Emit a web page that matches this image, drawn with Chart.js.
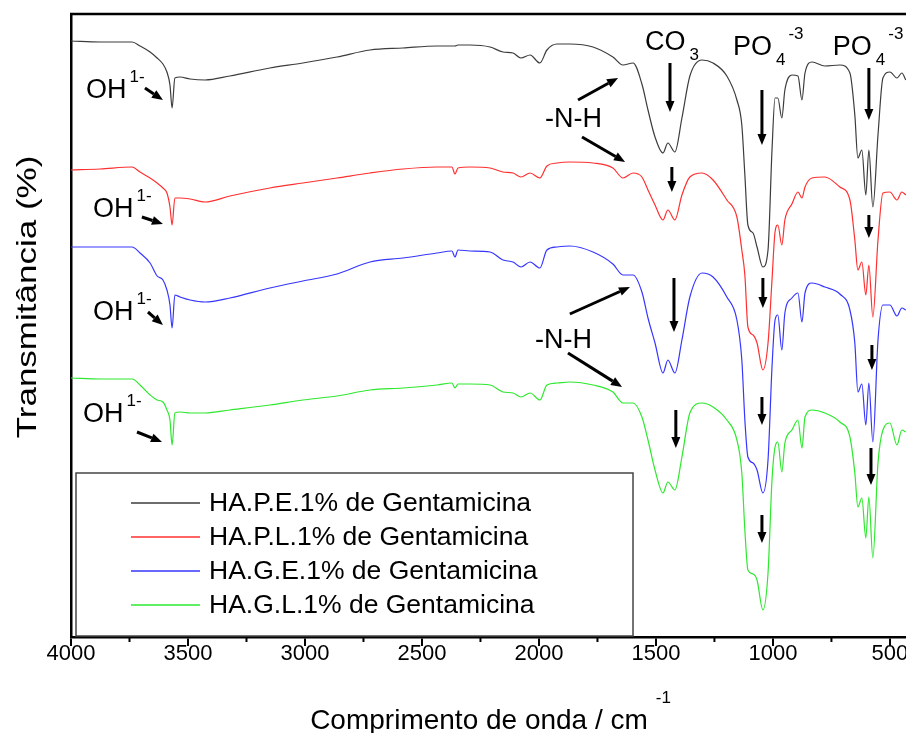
<!DOCTYPE html>
<html>
<head>
<meta charset="utf-8">
<script src="https://cdn.jsdelivr.net/npm/chart.js@4.4.0/dist/chart.umd.min.js"></script>
<style>
    html, body { margin: 0; padding: 0; background: #fff; overflow: hidden; }
    #wrap { width: 940px; height: 733px; }
</style>
</head>
<body>
<div id="wrap"><canvas id="ChartFTIR" width="940" height="733"></canvas></div>
<script>
// numero de onda (cm-1), eixo x invertido
const numeroOnda = [4000, 3876, 3739, 3705, 3662, 3632, 3607, 3590, 3577, 3568, 3556, 3534, 3491, 3427, 3321, 3150,
    3009, 2863, 2722, 2581, 2436, 2372, 2359, 2346, 2295, 2209, 2154, 2111, 2077, 2038, 1996, 1966, 1923, 1868,
    1769, 1684, 1641, 1598, 1560, 1534, 1504, 1470, 1449, 1419, 1389, 1355, 1303, 1256, 1197, 1154, 1133, 1120,
    1107, 1085, 1068, 1043, 1021, 1004, 991, 979, 962, 949, 919, 893, 876, 863, 833, 778, 714, 671, 650, 637,
    620, 603, 590, 573, 551, 530, 500, 470, 449, 432];

// transmitancia (u.a., curvas deslocadas)
const hapeValores = [596, 595, 595, 591, 585, 579, 573, 565, 552, 529, 559, 560, 558, 557, 561, 569,
    574, 580, 587, 589, 591, 591, 591, 592, 592, 590, 585, 584, 579, 582, 574, 587, 593, 593,
    590, 580, 572, 574, 553, 527, 500, 484, 494, 485, 519, 561, 577, 574, 561, 537, 512, 462,
    412, 404, 390, 370, 387, 487, 539, 539, 519, 547, 562, 561, 537, 564, 575, 571, 572, 564, 522, 479,
    487, 442, 487, 430, 502, 559, 565, 559, 564, 557];
const haplValores = [467, 468, 470, 465, 459, 454, 449, 444, 430, 412, 439, 439, 438, 435, 441, 449,
    454, 459, 464, 468, 470, 470, 463, 469, 470, 469, 465, 464, 460, 464, 459, 471, 474, 475,
    474, 469, 459, 464, 460, 447, 432, 417, 427, 417, 442, 460, 464, 457, 437, 420, 387, 362,
    310, 302, 294, 267, 294, 357, 405, 412, 392, 417, 433, 445, 439, 450, 459, 460, 450, 437, 397, 367,
    375, 342, 372, 320, 397, 444, 445, 437, 445, 442];
const hageValores = [390, 390, 390, 384, 374, 361, 357, 347, 332, 309, 342, 340, 337, 335, 339, 349,
    356, 363, 375, 379, 384, 386, 380, 387, 386, 385, 377, 375, 370, 375, 369, 387, 390, 391,
    385, 373, 362, 362, 345, 319, 294, 264, 277, 264, 297, 340, 364, 360, 340, 317, 277, 217,
    180, 174, 167, 144, 177, 270, 317, 322, 287, 324, 339, 344, 315, 344, 354, 350, 343, 327, 294, 245,
    253, 212, 254, 195, 297, 332, 332, 321, 329, 327];
const haglValores = [259, 258, 258, 252, 242, 237, 235, 227, 217, 192, 224, 225, 224, 224, 227, 232,
    237, 241, 247, 249, 252, 254, 249, 253, 253, 252, 245, 244, 240, 244, 237, 252, 254, 255,
    252, 245, 234, 234, 220, 197, 167, 144, 155, 147, 180, 224, 234, 230, 217, 197, 164, 107,
    67, 63, 57, 27, 64, 157, 190, 195, 165, 194, 207, 217, 189, 220, 227, 224, 215, 200, 164, 130,
    139, 99, 140, 79, 174, 207, 214, 192, 207, 205];

const rotulos = ['HA.P.E.1% de Gentamicina', 'HA.P.L.1% de Gentamicina', 'HA.G.E.1% de Gentamicina', 'HA.G.L.1% de Gentamicina'];
const cores = ['#3c3c3c', '#ff3030', '#3636ff', '#2ee82e'];
const ticksX = [4000, 3500, 3000, 2500, 2000, 1500, 1000, 500];
const ticksMenores = [3750, 3250, 2750, 2250, 1750, 1250, 750];

// rotulos das bandas: posicao em (cm-1, u.a.)
const rotulosBandas = [
    {texto: 'OH', sup: '1-', x: 3936, y: 539},
    {texto: 'OH', sup: '1-', x: 3906, y: 420},
    {texto: 'OH', sup: '1-', x: 3906, y: 317},
    {texto: 'OH', sup: '1-', x: 3949, y: 215},
    {texto: 'CO', sub: '3', x: 1547, y: 587},
    {texto: 'PO', sub: '4', sup: '-3', x: 1171, y: 582},
    {texto: 'PO', sub: '4', sup: '-3', x: 744, y: 582},
    {texto: '-N-H', x: 1974, y: 510},
    {texto: '-N-H', x: 2017, y: 289}
];
// setas: [x1, y1, x2, y2]
const setas = [
    [3684, 549, 3607, 537], [3697, 420, 3607, 413], [3671, 325, 3607, 312], [3718, 205, 3611, 195],
    [1833, 537, 1662, 559], [1816, 500, 1632, 475], [1868, 323, 1611, 350], [1876, 284, 1645, 250],
    [1440, 574, 1440, 525], [1432, 470, 1432, 445], [1423, 359, 1423, 305], [1415, 227, 1415, 189],
    [1047, 547, 1047, 492], [1043, 359, 1043, 329], [1047, 240, 1047, 212], [1047, 122, 1047, 94],
    [590, 569, 590, 517], [590, 422, 590, 399], [577, 292, 577, 267], [581, 189, 581, 152]
];

const fonte = "'Liberation Sans', Arial, sans-serif";

function seta(ctx, x1, y1, x2, y2) {
    const ang = Math.atan2(y2 - y1, x2 - x1);
    const cab = 11, larg = 4.5;
    const xb = x2 - cab * Math.cos(ang), yb = y2 - cab * Math.sin(ang);
    ctx.lineWidth = 3;
    ctx.beginPath();
    ctx.moveTo(x1, y1);
    ctx.lineTo(xb, yb);
    ctx.stroke();
    ctx.beginPath();
    ctx.moveTo(x2, y2);
    ctx.lineTo(xb + larg * Math.sin(ang), yb - larg * Math.cos(ang));
    ctx.lineTo(xb - larg * Math.sin(ang), yb + larg * Math.cos(ang));
    ctx.closePath();
    ctx.fill();
}

const anotacoes = {
    id: 'anotacoes',
    afterDraw(chart) {
        const {ctx, chartArea, scales: {x, y}} = chart;
        ctx.save();
        ctx.strokeStyle = '#000';
        ctx.fillStyle = '#000';

        // borda superior e ticks menores
        ctx.lineWidth = 2.5;
        ctx.beginPath();
        ctx.moveTo(chartArea.left - 1, chartArea.top);
        ctx.lineTo(chartArea.right, chartArea.top);
        ctx.stroke();
        ctx.lineWidth = 2;
        ticksMenores.forEach(v => {
            const px = x.getPixelForValue(v);
            ctx.beginPath();
            ctx.moveTo(px, chartArea.bottom);
            ctx.lineTo(px, chartArea.bottom + 5);
            ctx.stroke();
        });

        setas.forEach(s => seta(ctx, x.getPixelForValue(s[0]), y.getPixelForValue(s[1]),
            x.getPixelForValue(s[2]), y.getPixelForValue(s[3])));

        ctx.textBaseline = 'alphabetic';
        ctx.textAlign = 'left';
        rotulosBandas.forEach(r => {
            const px = x.getPixelForValue(r.x), py = y.getPixelForValue(r.y);
            ctx.font = '27px ' + fonte;
            ctx.fillText(r.texto, px, py);
            let fim = px + ctx.measureText(r.texto).width;
            ctx.font = '17px ' + fonte;
            if (r.sub) {
                ctx.fillText(r.sub, fim + 4, py + 10);
                fim += 4 + ctx.measureText(r.sub).width;
            }
            if (r.sup) {
                ctx.fillText(r.sup, fim + 3, py - 16);
            }
        });

        // legenda
        const leg = {left: 76, top: 473, width: 557, height: 163};
        ctx.fillStyle = '#fff';
        ctx.fillRect(leg.left, leg.top, leg.width, leg.height);
        ctx.strokeStyle = '#444';
        ctx.lineWidth = 1.5;
        ctx.strokeRect(leg.left, leg.top, leg.width, leg.height);
        ctx.font = '26.5px ' + fonte;
        ctx.textBaseline = 'middle';
        rotulos.forEach((r, i) => {
            const ly = 503 + i * 34;
            ctx.strokeStyle = cores[i];
            ctx.lineWidth = 1.5;
            ctx.beginPath();
            ctx.moveTo(131, ly);
            ctx.lineTo(200, ly);
            ctx.stroke();
            ctx.fillStyle = '#000';
            ctx.fillText(r, 209, ly + 1);
        });

        // titulos dos eixos
        ctx.fillStyle = '#000';
        ctx.textBaseline = 'alphabetic';
        ctx.font = '28px ' + fonte;
        ctx.textAlign = 'center';
        const tituloX = 'Comprimento de onda / cm';
        ctx.fillText(tituloX, 479, 729);
        const fimX = 479 + ctx.measureText(tituloX).width / 2;
        ctx.font = '17px ' + fonte;
        ctx.textAlign = 'left';
        ctx.fillText('-1', fimX + 8, 703);

        ctx.translate(36, 297);
        ctx.rotate(-Math.PI / 2);
        ctx.scale(1.25, 1);
        ctx.textAlign = 'center';
        ctx.font = '28px ' + fonte;
        ctx.fillText('Transmitância (%)', 0, 0);
        ctx.restore();
    }
};

const series = [hapeValores, haplValores, hageValores, haglValores];

var ctx = document.getElementById('ChartFTIR').getContext('2d');
var ChartFTIR = new Chart(ctx, {
    type: 'line',
    data: {
        datasets: series.map((valores, i) => ({
            label: rotulos[i],
            data: numeroOnda.map((wn, j) => ({x: wn, y: valores[j]})),
            borderColor: cores[i],
            borderWidth: 1.2,
            pointRadius: 0,
            cubicInterpolationMode: 'monotone',
            fill: false
        }))
    },
    options: {
        responsive: false,
        animation: false,
        layout: {padding: {top: 14, left: 0, right: 0, bottom: 0}},
        plugins: {legend: {display: false}, tooltip: {enabled: false}},
        scales: {
            x: {
                type: 'linear',
                reverse: true,
                min: 286,
                max: 4000,
                afterFit: function(scale) { scale.height = 96; },
                afterBuildTicks: function(scale) {
                    scale.ticks = ticksX.map(v => ({value: v}));
                },
                ticks: {
                    autoSkip: false,
                    maxRotation: 0,
                    padding: -5,
                    color: '#000',
                    font: {family: fonte, size: 22},
                    callback: function(value) { return value; }
                },
                grid: {drawOnChartArea: false, tickLength: 9, color: '#000', lineWidth: 2},
                border: {color: '#000', width: 2.5}
            },
            y: {
                min: 0,
                max: 623,
                afterFit: function(scale) { scale.width = 71; },
                ticks: {display: false},
                grid: {display: false},
                border: {display: true, color: '#000', width: 2.5}
            }
        }
    },
    plugins: [anotacoes]
});
</script>
</body>
</html>
